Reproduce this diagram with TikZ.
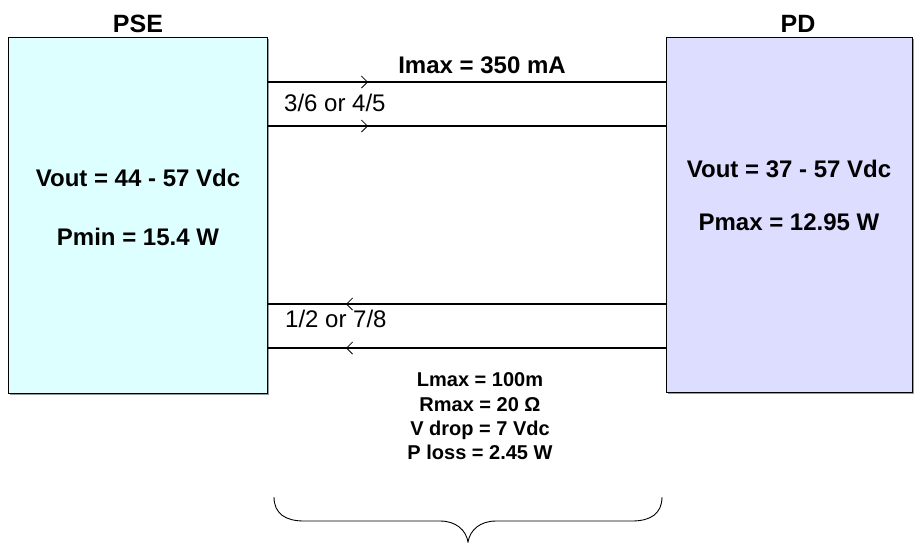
\documentclass[tikz,border=0pt]{standalone}
\usepackage{fontspec}
\setmainfont{Liberation Sans}
\usetikzlibrary{arrows.meta,shadows}
\definecolor{psefill}{HTML}{DDFFFF}
\definecolor{pdfill}{HTML}{DDDDFF}
\begin{document}
\begin{tikzpicture}[x=1pt,y=-1pt,
  box/.style={draw=black, line width=1.3pt, inner sep=0pt, anchor=north west,
    drop shadow={shadow xshift=1.2pt, shadow yshift=-1.2pt, fill=gray!80, opacity=1}},
  big/.style={font=\fontsize{24}{28}\selectfont\bfseries, inner sep=0pt, anchor=base},
  title/.style={font=\fontsize{25}{29}\selectfont\bfseries, inner sep=0pt, anchor=base},
  small/.style={font=\fontsize{20}{24}\selectfont\bfseries, inner sep=0pt, anchor=base},
  pair/.style={font=\fontsize{24}{28}\selectfont, inner sep=0pt, anchor=base west},
  wire/.style={line width=1.2pt, black},
  dirmark/.style={line width=1.6pt, -{Straight Barb[length=6pt,width=12pt,line width=0.8pt]}},
  brace/.style={line width=0.9pt, black}]
\useasboundingbox (0,0) rectangle (917,542);

% boxes
\node[box, fill=psefill, minimum width=259pt, minimum height=356pt] (pse) at (8,37) {};
\node[box, fill=pdfill, minimum width=246pt, minimum height=355pt] (pd) at (666,37) {};

% titles
\node[title] (tpse) at (138,32) {PSE};
\node[title] (tpd) at (798,32) {PD};

% box texts
\node[big] (psev) at (138,186) {Vout = 44 - 57 Vdc};
\node[big] (psep) at (138,245) {Pmin = 15.4 W};
\node[big] (pdv) at (789,177) {Vout = 37 - 57 Vdc};
\node[big] (pdp) at (789,230) {Pmax = 12.95 W};

% wire end points
\coordinate (a1) at (pse.east |- 0,82);  \coordinate (b1) at (pd.west |- 0,82);
\coordinate (a2) at (pse.east |- 0,126); \coordinate (b2) at (pd.west |- 0,126);
\coordinate (a3) at (pse.east |- 0,304); \coordinate (b3) at (pd.west |- 0,304);
\coordinate (a4) at (pse.east |- 0,348); \coordinate (b4) at (pd.west |- 0,348);
\draw[wire] (a1) -- (b1);
\draw[wire] (a2) -- (b2);
\draw[wire] (a3) -- (b3);
\draw[wire] (a4) -- (b4);

% direction marks
\coordinate (m1s) at (347,82);  \coordinate (m1e) at (368,82);
\coordinate (m2s) at (347,126); \coordinate (m2e) at (368,126);
\coordinate (m3s) at (367,304); \coordinate (m3e) at (346,304);
\coordinate (m4s) at (367,348); \coordinate (m4e) at (346,348);
\draw[dirmark] (m1s) -- (m1e);
\draw[dirmark, line width=1.2pt] (m2s) -- (m2e);
\draw[dirmark] (m3s) -- (m3e);
\draw[dirmark, line width=1.2pt] (m4s) -- (m4e);

% labels
\node[big] (imax) at (482,73) {Imax = 350 mA};
\node[pair] (p1) at (284,111) {3/6 or 4/5};
\node[pair] (p2) at (285,327) {1/2 or 7/8};

\node[small] (l1) at (480,386) {Lmax = 100m};
\node[small] (l2) at (480,411) {Rmax = 20 Ω};
\node[small] (l3) at (480,435) {V drop = 7 Vdc};
\node[small] (l4) at (480,459) {P loss = 2.45 W};

% brace
\coordinate (bl) at (274,497);
\coordinate (br) at (662,497);
\coordinate (bt) at (468,542);
\draw[brace] (bl) .. controls (274,514) and (286,521) .. (304,521)
  -- (440,521) .. controls (456,521) and (466,530) .. (bt)
  .. controls (470,530) and (480,521) .. (496,521)
  -- (632,521) .. controls (650,521) and (662,514) .. (br);
\end{tikzpicture}
\end{document}
